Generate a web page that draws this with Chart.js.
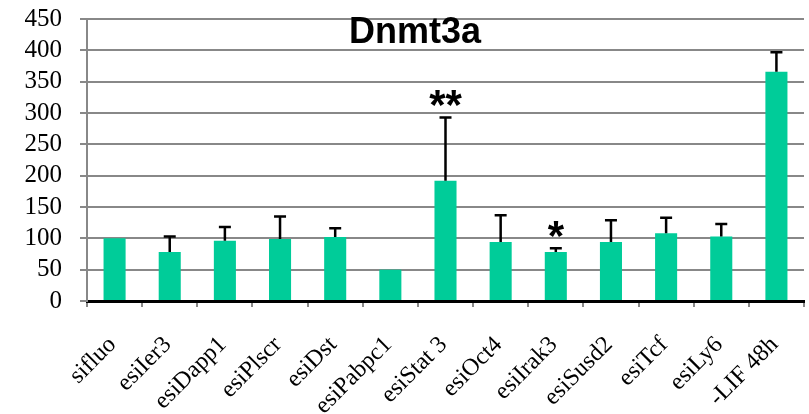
<!DOCTYPE html>
<html>
<head>
<meta charset="utf-8">
<script src="https://cdn.jsdelivr.net/npm/chart.js@4"></script>
<style>
  html, body { margin: 0; padding: 0; background: #fff; }
  #wrap { width: 809px; height: 414px; }
</style>
</head>
<body>
<div id="wrap"><canvas id="chartDnmt3a"></canvas></div>
<script>
const categories = ['sifluo', 'esiIer3', 'esiDapp1', 'esiPlscr', 'esiDst', 'esiPabpc1', 'esiStat 3',
  'esiOct4', 'esiIrak3', 'esiSusd2', 'esiTcf', 'esiLy6', '-LIF 48h'];
const values = [100, 78, 96, 99, 102, 50, 192, 94, 78, 94, 108, 103, 366];
// upper error (SD) for each bar
const errors = [0, 25, 22, 36, 14, 0, 101, 43, 6, 35, 25, 20, 31];
const stars = ['', '', '', '', '', '', '**', '', '*', '', '', '', ''];
const yTicks = [0, 50, 100, 150, 200, 250, 300, 350, 400, 450];

// barras de error y asteriscos
const errorBarPlugin = {
  id: 'errorBars',
  afterDatasetsDraw(chart) {
    const ctx = chart.ctx;
    const y = chart.scales.y;
    const meta = chart.getDatasetMeta(0);
    ctx.save();
    ctx.strokeStyle = '#000';
    ctx.lineWidth = 2.5;
    meta.data.forEach((bar, i) => {
      if (!errors[i]) return;
      const yTop = y.getPixelForValue(values[i] + errors[i]);
      const yBase = y.getPixelForValue(values[i]);
      ctx.beginPath();
      ctx.moveTo(bar.x, yBase);
      ctx.lineTo(bar.x, yTop);
      ctx.moveTo(bar.x - 6, yTop);
      ctx.lineTo(bar.x + 6, yTop);
      ctx.stroke();
    });
    ctx.fillStyle = '#000';
    ctx.font = 'bold 42px "Liberation Sans", Arial, sans-serif';
    ctx.textAlign = 'center';
    ctx.textBaseline = 'alphabetic';
    meta.data.forEach((bar, i) => {
      if (!stars[i]) return;
      const yTop = y.getPixelForValue(values[i] + errors[i]);
      ctx.fillText(stars[i], bar.x, yTop + 2);
    });
    // titulo
    ctx.font = 'bold 36px "Liberation Sans", Arial, sans-serif';
    ctx.fillText('Dnmt3a', 415, 43);
    ctx.restore();
  }
};

new Chart(document.getElementById('chartDnmt3a'), {
  type: 'bar',
  data: {
    labels: categories,
    datasets: [{
      data: values,
      backgroundColor: '#00CC99',
      barPercentage: 0.4,
      categoryPercentage: 1.0
    }]
  },
  options: {
    responsive: true,
    maintainAspectRatio: false,
    animation: false,
    layout: { padding: { top: 19, right: 5, left: 0, bottom: 0 } },
    plugins: {
      legend: { display: false },
      tooltip: { enabled: false }
    },
    scales: {
      x: {
        offset: true,
        grid: {
          display: true,
          drawOnChartArea: false,
          drawTicks: true,
          tickLength: 6,
          color: '#888',
          lineWidth: 2
        },
        border: { display: true, color: '#000', width: 3 },
        ticks: {
          minRotation: 45,
          maxRotation: 45,
          autoSkip: false,
          padding: 24,
          labelOffset: -2,
          color: '#000',
          font: { family: '"Liberation Serif", "Times New Roman", serif', size: 24 }
        },
        afterFit(scale) {
          scale.height = 113;
          scale.paddingLeft = 0;
          scale.paddingRight = 0;
        }
      },
      y: {
        min: 0,
        max: 450,
        afterBuildTicks(scale) { scale.ticks = yTicks.map(v => ({ value: v })); },
        grid: {
          color: '#888',
          lineWidth: 2,
          tickLength: 7
        },
        border: { display: true, color: '#888', width: 2 },
        ticks: {
          autoSkip: false,
          padding: 18,
          color: '#000',
          font: { family: '"Liberation Serif", "Times New Roman", serif', size: 25 }
        },
        afterFit(scale) {
          scale.width = 87;
          scale.paddingTop = 0;
          scale.paddingBottom = 0;
        }
      }
    }
  },
  plugins: [errorBarPlugin]
});
</script>
</body>
</html>
